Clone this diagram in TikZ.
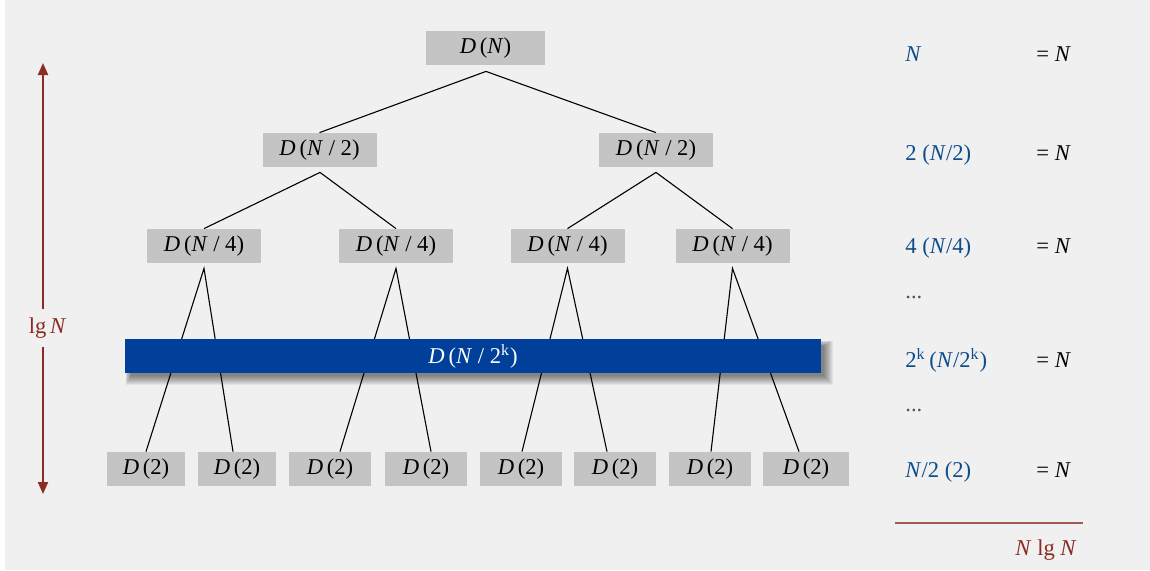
\documentclass[tikz,border=0pt]{standalone}
\usepackage{fontspec}
\setmainfont{Liberation Serif}
\usetikzlibrary{calc,arrows.meta}
\definecolor{bgcol}{HTML}{F0F0F0}
\definecolor{boxgray}{HTML}{C4C4C4}
\definecolor{barblue}{HTML}{00409A}
\definecolor{txtblue}{HTML}{0E4C8B}
\definecolor{darkred}{HTML}{8B2B22}
\definecolor{rulered}{HTML}{A05A52}
\definecolor{dotgray}{HTML}{555555}
\tikzset{
  gbox/.style={fill=boxgray, inner sep=0pt, minimum height=17pt, text=black},
  lvlzero/.style={gbox, minimum width=59.5pt},
  lvlone/.style={gbox, minimum width=57pt},
  lvltwo/.style={gbox, minimum width=57pt},
  leafbox/.style={gbox, minimum width=41pt},
  edge/.style={draw=black, line width=0.55pt},
  sumtxt/.style={text=txtblue, anchor=base west, inner sep=0pt},
  eqtxt/.style={text=black, anchor=base west, inner sep=0pt},
  dimarrow/.style={draw=darkred, line width=1pt, -{Triangle[length=6pt,width=5pt]}},
}
\newcommand{\DD}[1]{\textit{D}\,(#1)}
\begin{document}
\begin{tikzpicture}[x=0.5pt,y=-0.5pt,font=\fontsize{11.3}{13}\selectfont]
\useasboundingbox (0,0) rectangle (1150,570);
\fill[white] (0,0) rectangle (1150,570);
\fill[bgcol] (5,0) rectangle (1150,570);

% tree nodes
\node[lvlzero] (n0) at (485.5,48) {\DD{\textit{N}}};
\node[lvlone] (n1a) at (319.5,150) {\DD{\textit{N} / 2}};
\node[lvlone] (n1b) at (656,150) {\DD{\textit{N} / 2}};
\node[lvltwo] (n2a) at (204,246) {\DD{\textit{N} / 4}};
\node[lvltwo] (n2b) at (396,246) {\DD{\textit{N} / 4}};
\node[lvltwo] (n2c) at (567.5,246) {\DD{\textit{N} / 4}};
\node[lvltwo] (n2d) at (732.5,246) {\DD{\textit{N} / 4}};
\node[leafbox, minimum width=39pt] (l1) at (146,469) {\DD{2}};
\node[leafbox, minimum width=39pt] (l2) at (237,469) {\DD{2}};
\node[leafbox] (l3) at (330,469) {\DD{2}};
\node[leafbox] (l4) at (426,469) {\DD{2}};
\node[leafbox] (l5) at (521,469) {\DD{2}};
\node[leafbox] (l6) at (615,469) {\DD{2}};
\node[leafbox] (l7) at (710,469) {\DD{2}};
\node[leafbox, minimum width=43pt] (l8) at (806,469) {\DD{2}};

% edges
\draw[edge] (n1a.north) -- ($(n0.south)+(0.5,6)$) -- (n1b.north);
\draw[edge] (n2a.north) -- ($(n1a.south)+(0.5,5)$) -- (n2b.north);
\draw[edge] (n2c.north) -- ($(n1b.south)+(0,5)$) -- (n2d.north);
\draw[edge] (l1.north) -- ($(n2a.south)+(0,5)$) -- ($(l2.north)+(-4,0)$);
\draw[edge] ($(l3.north)+(10,0)$) -- ($(n2b.south)+(0,5)$) -- ($(l4.north)+(5,0)$);
\draw[edge] ($(l5.north)+(1,0)$) -- ($(n2c.south)+(0,5)$) -- ($(l6.north)+(-8,0)$);
\draw[edge] ($(l7.north)+(1,0)$) -- ($(n2d.south)+(0,5)$) -- ($(l8.north)+(-7,0)$);

% soft shadow of bar (below and to the right)
\foreach \k in {0,1,...,9} {
  \fill[black, opacity=0.055] ({131-0.6*\k},{346-0.6*\k}) rectangle ({824+1*\k},{376+1*\k});
}
\node[fill=barblue, inner sep=0pt, minimum width=348pt, minimum height=17pt, text=white] (bar) at (473,356) {};
\node[text=white, inner sep=0pt] (bartxt) at (473,356) {\DD{\textit{N} / 2\textsuperscript{k}}};

% left dimension arrow
\coordinate (a1) at (43,63);
\coordinate (a2) at (43,309);
\coordinate (a3) at (43,347);
\coordinate (a4) at (43,494);
\node[text=darkred, inner sep=0pt] (lgN) at (47.5,328) {lg\,\textit{N}};
\draw[dimarrow] (a2) -- (a1);
\draw[dimarrow] (a3) -- (a4);

% right column
\node[sumtxt] (s0) at (905,61) {\textit{N}};
\node[sumtxt] (s1) at (905,160) {2 (\textit{N}/2)};
\node[sumtxt] (s2) at (905,253) {4 (\textit{N}/4)};
\node[sumtxt, text=dotgray] (s3) at (905,298) {...};
\node[sumtxt] (s4) at (905,367) {2\textsuperscript{k}\,(\textit{N}/2\textsuperscript{k})};
\node[sumtxt, text=dotgray] (s5) at (905,411) {...};
\node[sumtxt] (s6) at (905,477) {\textit{N}/2 (2)};
\node[eqtxt] (e0) at (1036,61) {= \textit{N}};
\node[eqtxt] (e1) at (1036,160) {= \textit{N}};
\node[eqtxt] (e2) at (1036,253) {= \textit{N}};
\node[eqtxt] (e4) at (1036,367) {= \textit{N}};
\node[eqtxt] (e6) at (1036,477) {= \textit{N}};
\coordinate (r1) at (895,523);
\coordinate (r2) at (1083,523);
\draw[rulered, line width=0.7pt] (r1) -- (r2);
\node[text=darkred, anchor=base east, inner sep=0pt] (tot) at (1077,555) {\textit{N} lg \textit{N}};
\end{tikzpicture}
\end{document}
